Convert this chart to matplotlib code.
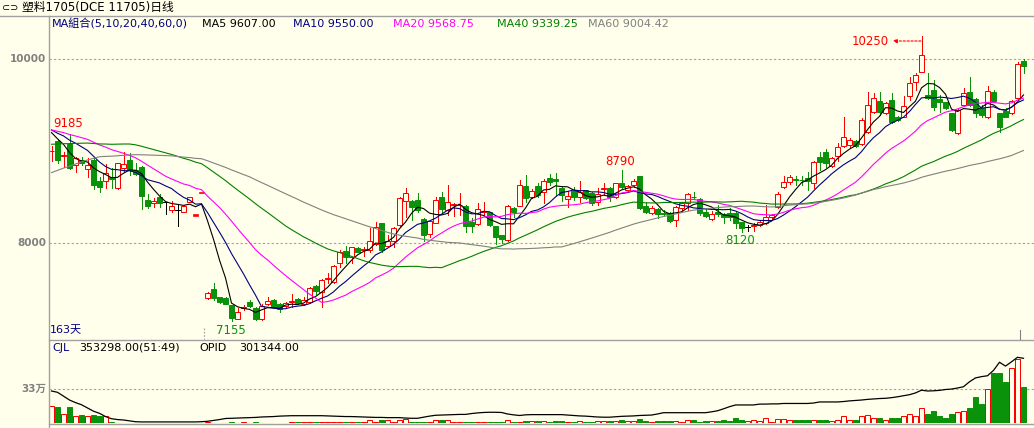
import matplotlib
matplotlib.use('Agg')
import matplotlib.pyplot as plt
from matplotlib.patches import Rectangle
from matplotlib.lines import Line2D
import pandas as pd

# ---------------- data ----------------
opens = [8995, 9109, 8945, 9076, 8848, 8903, 8801, 8903, 8674, 8678,
         8721, 8595, 8812, 8903, 8794, 8823, 8468, 8432, 8497, 8442,
         8359, 8359, 8341, 8450, 8304, 8550, 7399, 7500, 7410, 7399,
         7326, 7174, 7297, 7355, 7290, 7171, 7334, 7381, 7337, 7319,
         7355, 7392, 7337, 7355, 7533, 7471, 7605, 7580, 7779, 7913,
         7844, 7949, 7928, 7924, 7989, 8221, 7971, 8025, 8196, 8460,
         8457, 8468, 8261, 8094, 8221, 8497, 8359, 8417, 8410, 8402,
         8232, 8207, 8340, 8341, 8185, 8087, 8033, 8377, 8406, 8620,
         8504, 8620, 8558, 8703, 8692, 8601, 8475, 8569, 8496, 8576,
         8547, 8442, 8590, 8601, 8496, 8656, 8576, 8630, 8728, 8402,
         8323, 8366, 8322, 8322, 8250, 8377, 8431, 8500, 8475, 8341,
         8261, 8340, 8315, 8330, 8330, 8232, 8170, 8190, 8196, 8214,
         8279, 8395, 8605, 8659, 8692, 8688, 8703, 8648, 8938, 8985,
         8840, 8946, 9058, 9065, 9109, 9072, 9203, 9427, 9543, 9409,
         9554, 9366, 9373, 9601, 9746, 9855, 9608, 9663, 9565, 9529,
         9409, 9199, 9500, 9638, 9561, 9464, 9366, 9638, 9409, 9435,
         9409, 9572, 9978]
highs = [9055, 9127, 8993, 9185, 8939, 8939, 8921, 8939, 8721, 8855,
         8812, 8873, 8993, 8975, 8873, 8837, 8529, 8486, 8533, 8450,
         8461, 8413, 8413, 8504, 8304, 8550, 7471, 7562, 7417, 7410,
         7326, 7290, 7326, 7381, 7301, 7337, 7410, 7388, 7345, 7363,
         7446, 7399, 7417, 7518, 7544, 7605, 7678, 7761, 7924, 7967,
         7960, 7960, 7960, 8160, 8232, 8221, 8087, 8170, 8504, 8594,
         8468, 8547, 8268, 8250, 8504, 8558, 8631, 8431, 8540, 8413,
         8268, 8431, 8449, 8341, 8185, 8087, 8413, 8395, 8685, 8739,
         8583, 8649, 8692, 8746, 8757, 8612, 8569, 8612, 8677, 8576,
         8558, 8594, 8656, 8612, 8656, 8790, 8630, 8695, 8732, 8449,
         8402, 8377, 8359, 8341, 8402, 8449, 8547, 8558, 8485, 8377,
         8352, 8413, 8322, 8377, 8341, 8232, 8196, 8214, 8250, 8413,
         8315, 8558, 8728, 8739, 8728, 8728, 8775, 8895, 8993, 9022,
         8938, 9083, 9373, 9138, 9119, 9355, 9645, 9627, 9637, 9536,
         9634, 9380, 9598, 9808, 9844, 10250, 9844, 9771, 9608, 9536,
         9416, 9453, 9681, 9808, 9572, 9500, 9706, 9663, 9409, 9464,
         9554, 9971, 9996]
lows = [8895, 8874, 8830, 8801, 8776, 8848, 8721, 8584, 8558, 8602,
        8602, 8587, 8776, 8740, 8740, 8374, 8377, 8388, 8395, 8312,
        8341, 8189, 8341, 8446, 8304, 8550, 7388, 7381, 7352, 7334,
        7155, 7170, 7272, 7308, 7165, 7165, 7326, 7290, 7254, 7308,
        7308, 7337, 7326, 7344, 7446, 7301, 7562, 7562, 7736, 7779,
        7786, 7899, 7859, 7906, 7978, 7906, 7953, 7953, 8185, 8286,
        8250, 8341, 8025, 8062, 8214, 8341, 8304, 8297, 8304, 8123,
        8123, 8196, 8304, 8185, 7989, 8004, 8025, 8286, 8402, 8449,
        8486, 8504, 8431, 8630, 8522, 8460, 8388, 8467, 8449, 8475,
        8413, 8413, 8522, 8460, 8485, 8601, 8569, 8612, 8370, 8330,
        8315, 8268, 8294, 8232, 8185, 8359, 8359, 8475, 8304, 8279,
        8250, 8294, 8214, 8250, 8160, 8120, 8134, 8130, 8185, 8207,
        8268, 8377, 8594, 8641, 8630, 8630, 8576, 8594, 8793, 8829,
        8829, 8895, 9047, 9047, 9040, 9065, 9192, 9409, 9391, 9402,
        9308, 9330, 9366, 9554, 9663, 9855, 9561, 9445, 9427, 9453,
        9221, 9185, 9489, 9489, 9373, 9366, 9355, 9536, 9210, 9366,
        9402, 9561, 9851]
closes = [9005, 8903, 8955, 8812, 8921, 8866, 8848, 8631, 8613, 8765,
          8692, 8866, 8855, 8794, 8747, 8511, 8406, 8461, 8432, 8442,
          8406, 8359, 8406, 8497, 8304, 8550, 7453, 7399, 7363, 7337,
          7182, 7254, 7305, 7315, 7174, 7316, 7373, 7301, 7283, 7352,
          7365, 7352, 7381, 7507, 7482, 7598, 7616, 7750, 7899, 7844,
          7953, 7906, 7935, 8022, 8178, 7924, 8022, 8160, 8493, 8540,
          8395, 8359, 8087, 8243, 8468, 8366, 8442, 8424, 8413, 8185,
          8185, 8366, 8348, 8196, 8062, 8040, 8402, 8341, 8630, 8486,
          8565, 8522, 8677, 8667, 8677, 8522, 8511, 8504, 8558, 8485,
          8431, 8529, 8598, 8496, 8648, 8612, 8623, 8677, 8377, 8341,
          8377, 8315, 8315, 8243, 8388, 8431, 8533, 8496, 8322, 8294,
          8315, 8315, 8279, 8279, 8214, 8160, 8170, 8196, 8232, 8286,
          8304, 8529, 8667, 8714, 8685, 8681, 8677, 8877, 8884, 8866,
          8920, 9047, 9149, 9119, 9054, 9337, 9500, 9572, 9420, 9525,
          9319, 9337, 9493, 9735, 9826, 10043, 9572, 9474, 9536, 9464,
          9228, 9445, 9634, 9500, 9409, 9391, 9656, 9547, 9264, 9366,
          9547, 9942, 9927]
# closes before the visible window, estimated from where the MA lines start
hist_closes = [7450, 7480, 7520, 7500, 7560, 7540, 7580, 7570,
               8520, 8580, 8550, 8600, 8570, 8540, 8590, 8560, 8580, 8550, 8570, 8570,
               8780, 8820, 8790, 8810, 8800, 8780, 8830, 8790, 8810, 8800, 8790, 8810, 8790,
               9100, 9150, 9120, 9160, 9130, 9140, 9140,
               9200, 9240, 9220, 9250, 9230, 9210, 9240, 9230, 9220, 9250,
               9260, 9250, 9270, 9250, 9260,
               9240, 9260, 9250, 9246]
volumes = [165000, 155000, 87000, 155000, 68000, 78000, 68000, 78000, 72000, 68000,
           12000, 2000, 2000, 2000, 2000, 2000, 2000, 2000, 2000, 2000,
           2000, 2000, 2000, 2000, 2000, 2000, 9000, 3000, 3000, 3000,
           9000, 3000, 9000, 3000, 9000, 3000, 3000, 3000, 3000, 3000,
           9000, 5000, 10000, 10000, 10000, 10000, 10000, 10000, 10000, 10000,
           10000, 10000, 10000, 26000, 10000, 26000, 26000, 10000, 26000, 42000,
           10000, 10000, 10000, 10000, 26000, 26000, 26000, 10000, 10000, 10000,
           10000, 10000, 10000, 10000, 10000, 10000, 26000, 10000, 10000, 19000,
           19000, 19000, 19000, 10000, 19000, 19000, 7000, 7000, 19000, 7000,
           7000, 19000, 19000, 19000, 19000, 32000, 19000, 19000, 39000, 19000,
           7000, 19000, 19000, 19000, 19000, 7000, 26000, 26000, 7000, 19000,
           19000, 19000, 26000, 19000, 45000, 26000, 19000, 26000, 19000, 52000,
           7000, 42000, 42000, 26000, 26000, 26000, 26000, 32000, 32000, 26000,
           19000, 26000, 65000, 26000, 26000, 65000, 81000, 52000, 52000, 26000,
           52000, 52000, 65000, 91000, 71000, 149000, 84000, 113000, 65000, 49000,
           84000, 104000, 113000, 142000, 249000, 181000, 333000, 482000, 482000, 395000,
           537000, 624000, 353298]
open_interest = [149, 143, 125, 107, 95, 85, 70, 55, 45, 30,
                 20, 16, 14, 10, 6, 5, 5, 5, 5, 5,
                 5, 5, 5, 5, 5, 6, 8, 12, 16, 21,
                 22, 23, 24, 25, 26, 28, 29, 30, 32, 33,
                 34, 34, 34, 34, 34, 34, 33, 32, 31, 30,
                 30, 29, 28, 27, 26, 26, 25, 25, 25, 23,
                 22, 22, 27, 32, 36, 37, 38, 39, 40, 40,
                 44, 47, 49, 50, 50, 49, 42, 38, 35, 38,
                 39, 39, 39, 39, 39, 39, 37, 35, 33, 32,
                 30, 28, 27, 27, 29, 31, 32, 33, 35, 36,
                 37, 42, 48, 48, 48, 48, 48, 48, 48, 48,
                 52, 57, 66, 76, 84, 84, 84, 84, 88, 88,
                 89, 89, 91, 91, 91, 91, 91, 93, 98, 98,
                 98, 98, 100, 103, 105, 107, 110, 112, 114, 115,
                 118, 122, 127, 132, 140, 153, 149, 150, 152, 156,
                 158, 163, 169, 192, 210, 216, 220, 245, 283, 265,
                 285, 306, 301.344]
ma_periods = [5, 10, 20, 40, 60]
ma_colors = ['#000000', '#000080', '#FF00FF', '#008000', '#808080']
ma_last_values = [9607.00, 9550.00, 9568.75, 9339.25, 9004.42]
y_ticks = [8000, 10000]
vol_tick = 330000
vol_tick_label = '33万'
title = '塑料1705(DCE 11705)日线'

# ---------------- styling ----------------
W, H = 1034, 428
BG = '#FFFFEB'
RED = '#FF0000'
GRN = '#0A920A'
FRAME = '#A0A0A0'
MIX = ['DejaVu Sans', 'Noto Sans CJK SC']
plt.rcParams['font.family'] = MIX

fig = plt.figure(figsize=(W / 100, H / 100), dpi=100)
fig.patch.set_facecolor(BG)


def fx(px):
    return px / W


def fy(py):
    return 1 - py / H


n = len(closes)
x0 = -(51.5 - 49) / 6.0
x1 = (W - 51.5) / 6.0

# main price axes (y from 16 to 339 px)
ax = fig.add_axes([fx(49), fy(339), fx(W - 49), (339 - 16) / H])
ax.set_facecolor(BG)
ax.set_xlim(x0, x1)
ax.set_ylim(10000 - (339 - 59) * 10.87, 10000 + (59 - 16) * 10.87)
ax.axis('off')

# volume axes (y from 340 to 423 px)
vax = fig.add_axes([fx(49), fy(423), fx(W - 49), (423 - 340) / H])
vax.set_facecolor(BG)
vax.set_xlim(x0, x1)
vol_per_px = vol_tick / (423 - 389)
vax.set_ylim(0, vol_per_px * (423 - 340))
vax.axis('off')
oax = vax.twinx()
oax.set_xlim(x0, x1)
oax.set_ylim(0, open_interest[-1] / 64.7 * (423 - 340))
oax.axis('off')

bw = 0.667
lw = 0.72

# grid lines
for t in y_ticks:
    ax.axhline(t, color=FRAME, lw=0.8, ls=(0, (2, 2)), zorder=1)
vax.axhline(vol_tick, color=FRAME, lw=0.8, ls=(0, (2, 2)), zorder=1)

# candles
for i in range(n):
    o, h, l, c = opens[i], highs[i], lows[i], closes[i]
    if h == l:
        ax.add_patch(Rectangle((i - bw / 2, c - 8), bw, 16, facecolor=RED,
                               edgecolor=RED, lw=0.5, zorder=2))
    elif o == c:
        ax.plot([i, i], [l, h], color='black', lw=lw, zorder=2)
        ax.plot([i - bw / 2, i + bw / 2], [c, c], color='black', lw=lw, zorder=2)
    elif c > o:
        ax.plot([i, i], [c, h], color=RED, lw=lw, zorder=2)
        ax.plot([i, i], [l, o], color=RED, lw=lw, zorder=2)
        ax.add_patch(Rectangle((i - bw / 2, o), bw, c - o, facecolor=BG,
                               edgecolor=RED, lw=lw, zorder=2))
    else:
        ax.plot([i, i], [l, h], color=GRN, lw=lw, zorder=2)
        ax.add_patch(Rectangle((i - bw / 2, c), bw, o - c, facecolor=GRN,
                               edgecolor=GRN, lw=lw, zorder=2))

# moving averages
full = pd.Series(hist_closes + closes, dtype=float)
xs = list(range(n))
for p, col in zip(ma_periods, ma_colors):
    ma = full.rolling(p).mean().iloc[-n:].values
    ax.plot(xs, ma, color=col, lw=0.8, zorder=3)

# volume bars
for i in range(n):
    up = closes[i] >= opens[i]
    if up:
        vax.add_patch(Rectangle((i - bw / 2, 0), bw, volumes[i], facecolor=BG,
                                edgecolor=RED, lw=lw, zorder=2))
    else:
        vax.add_patch(Rectangle((i - bw / 2, 0), bw, volumes[i], facecolor=GRN,
                                edgecolor=GRN, lw=lw, zorder=2))
oax.plot(xs, open_interest, color='black', lw=0.9, zorder=3)

# extreme labels
hi_i = max(range(n), key=lambda k: highs[k])
lo_i = min(range(n), key=lambda k: lows[k])
ax.annotate('%d' % highs[hi_i], xy=(hi_i, highs[hi_i]), xytext=(-33, -5),
            textcoords='offset pixels', ha='right', va='center', color=RED,
            fontsize=8.5, zorder=5)
ax.annotate('', xy=(hi_i - 4.8, highs[hi_i] - 5 * 10.87),
            xytext=(hi_i - 0.1, highs[hi_i] - 5 * 10.87),
            arrowprops=dict(arrowstyle='-|>', color=RED, lw=0.8, ls=(0, (2, 1.5)),
                            mutation_scale=6, shrinkA=0, shrinkB=0), zorder=5)
ax.annotate('%d' % lows[lo_i], xy=(lo_i, lows[lo_i]), xytext=(-16, -10),
            textcoords='offset pixels', ha='left', va='center', color=GRN,
            fontsize=8.5, zorder=5)
# local extremes
first_hi = max(range(0, 20), key=lambda k: highs[k])
ax.annotate('%d' % highs[first_hi], xy=(first_hi, highs[first_hi]), xytext=(-16, 10),
            textcoords='offset pixels', ha='left', va='center', color=RED,
            fontsize=8.5, zorder=5)
mid_hi = max(range(80, 110), key=lambda k: highs[k])
ax.annotate('%d' % highs[mid_hi], xy=(mid_hi, highs[mid_hi]), xytext=(-16, 9),
            textcoords='offset pixels', ha='left', va='center', color=RED,
            fontsize=8.5, zorder=5)
mid_lo = min(range(100, 125), key=lambda k: lows[k])
ax.annotate('%d' % lows[mid_lo], xy=(mid_lo, lows[mid_lo]), xytext=(-16, -9),
            textcoords='offset pixels', ha='left', va='center', color=GRN,
            fontsize=8.5, zorder=5)


# frame lines (figure pixel coordinates)
def fline(xa, ya, xb, yb, color=FRAME, lw=1.0, ls='-'):
    fig.add_artist(Line2D([fx(xa), fx(xb)], [fy(ya), fy(yb)], color=color, lw=lw, ls=ls,
                          transform=fig.transFigure))


fline(0, 15.5, W, 15.5)
fline(48.5, 15.5, 48.5, H)
fline(48.5, 339.5, W, 339.5)
fline(48.5, 423.5, W, 423.5)
fline(204, 328, 204, 339, color=FRAME, lw=0.8, ls=(0, (1.5, 1.5)))
fline(1020, 330, 1020, 339, color='#808080', lw=0.8)

# y-axis labels
for t in y_ticks:
    ypix = 59 + (10000 - t) / 10.87
    fig.text(fx(46), fy(ypix), '%d' % t, ha='right', va='center', color='#808080',
             fontsize=7.5, fontweight='bold')
fig.text(fx(46), fy(389), vol_tick_label, ha='right', va='center', color='#808080',
         fontsize=7.5, fontweight='bold')

# header
fig.text(fx(2), fy(8), '⊂⊃', ha='left', va='center', color='black', fontsize=7)
fig.text(fx(22), fy(8), title, ha='left', va='center', color='black', fontsize=8.5)
fig.text(fx(52), fy(24), 'MA組合(5,10,20,40,60,0)', ha='left', va='center',
         color='#000080', fontsize=8)
ma_text_x = [202, 293, 393, 497, 588]
for p, v, xp, col in zip(ma_periods, ma_last_values, ma_text_x, ma_colors):
    fig.text(fx(xp), fy(24), 'MA%d %.2f' % (p, v), ha='left', va='center', color=col,
             fontsize=8)

fig.text(fx(50), fy(330), '%d天' % n, ha='left', va='center', color='#000080',
         fontsize=8)

# volume panel header
fig.text(fx(52), fy(348), 'CJL', ha='left', va='center', color='#000080', fontsize=8)
fig.text(fx(79), fy(348), '%.2f(51:49)' % volumes[-1], ha='left', va='center',
         color='black', fontsize=8)
fig.text(fx(199), fy(348), 'OPID', ha='left', va='center', color='black', fontsize=8)
fig.text(fx(239), fy(348), '%.2f' % (open_interest[-1] * 1000), ha='left', va='center',
         color='black', fontsize=8)

fig.savefig('out.png', dpi=100, facecolor=BG)
